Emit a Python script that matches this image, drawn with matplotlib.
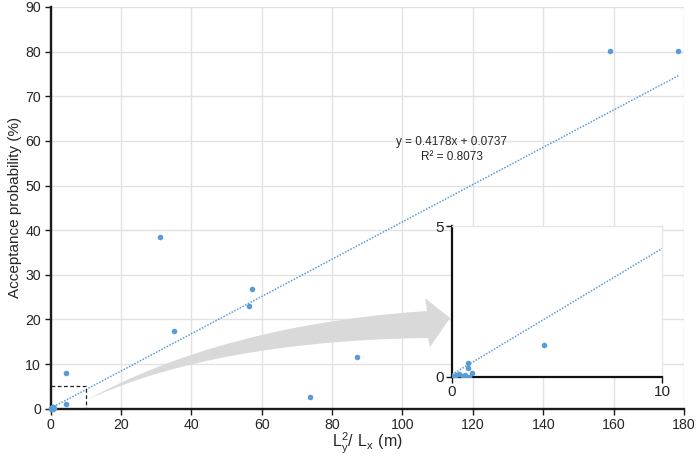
import matplotlib
matplotlib.use("Agg")
import matplotlib.pyplot as plt
import numpy as np
from matplotlib.path import Path
from matplotlib.patches import PathPatch

plt.rcParams['font.family'] = ['Liberation Sans', 'DejaVu Sans']

# ---- data ----
x_vals = [0.05, 0.2, 0.35, 0.5, 0.62, 0.75, 0.78, 0.8, 0.95, 4.4, 4.4,
          31.1, 35.05, 56.5, 57.2, 73.7, 87.1, 158.9, 178.4]
y_vals = [0.02, 0.05, 0.1, 0.02, 0.05, 0.3, 0.45, 0.0, 0.12, 1.05, 8.0,
          38.5, 17.5, 23.0, 26.75, 2.55, 11.65, 80.1, 80.1]
slope = 0.4178
intercept = 0.0737
r2 = 0.8073
x_ticks = list(range(0, 181, 20))
y_ticks = list(range(0, 91, 10))
inset_xticks = [0, 10]
inset_yticks = [0, 5]

W, H = 699, 457
blue = '#5b9bd5'
grid_c = '#e2e2e2'
txt_c = '#262626'

fig = plt.figure(figsize=(W / 100, H / 100), dpi=100)

def fx(px):
    return px / W

def fy(py):
    return 1 - py / H

ax = fig.add_axes([fx(50.5), fy(408.7), fx(684) - fx(50.5), fy(7) - fy(408.7)])
ax.set_zorder(0)
ax.set_xlim(0, 180)
ax.set_ylim(0, 90)
ax.set_xticks(x_ticks)
ax.set_yticks(y_ticks)
ax.grid(True, color=grid_c, linewidth=1.0)
ax.set_axisbelow(True)
for s in ['top', 'right']:
    ax.spines[s].set_visible(False)
for s in ['left', 'bottom']:
    ax.spines[s].set_color('#1a1a1a')
    ax.spines[s].set_linewidth(1.7)
ax.tick_params(direction='out', length=4, width=1, color='#1a1a1a',
               labelsize=10.2, labelcolor=txt_c, pad=3)

xa = np.array(x_vals)
ya = np.array(y_vals)
ax.plot(xa, ya, 'o', color=blue, markersize=4, markeredgewidth=0, zorder=4, clip_on=False)
xl = np.array([xa.min(), xa.max()])
ax.plot(xl, slope * xl + intercept, linestyle=(0, (1, 1)), color=blue, linewidth=1.1, zorder=3)

ax.text(114, 59.7, f'y = {slope}x + {intercept}', ha='center', va='center', fontsize=8.5, color=txt_c)
ax.text(114, 56.5, f'R\u00b2 = {r2}', ha='center', va='center', fontsize=8.5, color=txt_c)

# dashed zoom box
ax.plot([0, 10, 10], [5, 5, 0], linestyle=(0, (3, 2)), color='#222222', linewidth=0.9, zorder=3)

fig.text(fx(367), fy(448), r'$\mathregular{L_y^2/\ L_x\ (m)}$', fontsize=11.5, color=txt_c,
         ha='center', va='baseline')
ax.set_ylabel('Acceptance probability (%)', fontsize=11, color=txt_c, labelpad=2)

# curved arrow (figure pixel coordinates)
def P(px, py):
    return (fx(px), fy(py))

verts = [P(87, 400), P(150, 365), P(260, 322), P(427, 311),
         P(425, 298), P(450, 318), P(430, 347), P(428, 338),
         P(260, 340), P(150, 370), P(87, 400), P(87, 400)]
codes = [Path.MOVETO, Path.CURVE4, Path.CURVE4, Path.CURVE4,
         Path.LINETO, Path.LINETO, Path.LINETO, Path.LINETO,
         Path.CURVE4, Path.CURVE4, Path.CURVE4, Path.CLOSEPOLY]
arrow = PathPatch(Path(verts, codes), facecolor='#d9d9d9', edgecolor='none',
                  transform=fig.transFigure, zorder=1)
fig.patches.append(arrow)

# inset
ins = fig.add_axes([fx(452), fy(376.7), fx(662) - fx(452), fy(226) - fy(376.7)])
ins.set_zorder(2)
ins.set_xlim(0, 10)
ins.set_ylim(0, 5)
ins.set_xticks(inset_xticks)
ins.set_yticks(inset_yticks)
for s in ['top', 'right']:
    ins.spines[s].set_color('#e6e6e6')
    ins.spines[s].set_linewidth(1.0)
for s in ['left', 'bottom']:
    ins.spines[s].set_color('#111111')
    ins.spines[s].set_linewidth(1.6)
ins.tick_params(direction='out', length=4, width=1, color='#111111',
                labelsize=11, labelcolor=txt_c, pad=2)
ins.plot(xa, ya, 'o', color=blue, markersize=4, markeredgewidth=0, zorder=4, clip_on=True)
xi = np.array([0, 10])
ins.plot(xi, slope * xi + intercept, linestyle=(0, (1, 1)), color=blue, linewidth=1.1, zorder=3)

fig.savefig('out.png', dpi=100)
